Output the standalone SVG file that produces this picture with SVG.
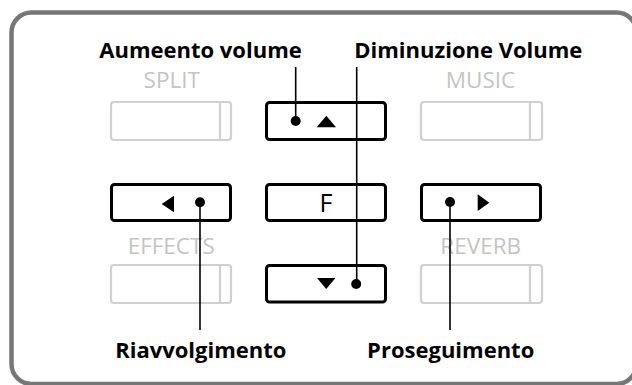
<svg xmlns="http://www.w3.org/2000/svg" width="632" height="385" viewBox="0 0 632 385">
<style>
.frame{fill:#fff;stroke:#777;stroke-width:4.5}
.key{fill:#fff;stroke:#000;stroke-width:3}
.off{fill:#fff;stroke:#d0d0d0;stroke-width:2.2}
.offl{stroke:#d0d0d0;stroke-width:2.2}
.lbl{font-family:"Open Sans","Liberation Sans",sans-serif;font-weight:bold;font-size:22px;fill:#000;text-anchor:middle}
.glbl{font-family:"Open Sans","Liberation Sans",sans-serif;font-size:22.5px;fill:#c4c4c4;text-anchor:middle}
.ftxt{font-family:"Open Sans","Liberation Sans",sans-serif;font-size:25px;fill:#000;text-anchor:middle}
.ln{stroke:#000;stroke-width:1.6;fill:none}
.dot{fill:#000}
</style>
<rect class="frame" x="11.5" y="12.5" width="625" height="371.5" rx="20"/>
<g id="split">
<text class="glbl" x="171.7" y="87.5">SPLIT</text>
<rect class="off" x="111" y="102" width="120" height="38" rx="3"/>
<line class="offl" x1="220" y1="102" x2="220" y2="140"/>
</g>
<g id="music">
<text class="glbl" x="480.5" y="87.5">MUSIC</text>
<rect class="off" x="421" y="102" width="121" height="38" rx="3"/>
<line class="offl" x1="530" y1="102" x2="530" y2="140"/>
</g>
<g id="effects">
<text class="glbl" x="171.2" y="253.5">EFFECTS</text>
<rect class="off" x="111" y="265" width="120" height="38" rx="3"/>
<line class="offl" x1="220" y1="265" x2="220" y2="303"/>
</g>
<g id="reverb">
<text class="glbl" x="480.7" y="253.5">REVERB</text>
<rect class="off" x="421" y="265" width="121" height="38" rx="3"/>
<line class="offl" x1="530" y1="265" x2="530" y2="303"/>
</g>
<g id="up">
<rect class="key" x="266.5" y="102.5" width="119" height="37" rx="3"/>
<polygon points="316.7,127.3 336,127.3 326.3,115.7"/>
</g>
<g id="left">
<rect class="key" x="111.5" y="184.5" width="119" height="36" rx="3"/>
<polygon points="161.7,204 174,195.7 174,212.3"/>
</g>
<g id="f">
<rect class="key" x="266.5" y="184.5" width="119" height="36" rx="3"/>
<text class="ftxt" x="326" y="212.3">F</text>
</g>
<g id="right">
<rect class="key" x="421.5" y="184.5" width="119" height="36" rx="3"/>
<polygon points="477.7,194.3 489.3,202.7 477.7,211"/>
</g>
<g id="down">
<rect class="key" x="266.5" y="265.5" width="119" height="36.5" rx="3"/>
<polygon points="317,278 335.5,278 326.2,289"/>
</g>
<g id="labels">
<text class="lbl" x="200.5" y="57.5">Aumeento volume</text>
<text class="lbl" x="468.3" y="57.5">Diminuzione Volume</text>
<text class="lbl" x="200.8" y="357.7">Riavvolgimento</text>
<text class="lbl" x="450.7" y="357.7">Proseguimento</text>
</g>
<g id="connectors">
<line class="ln" x1="295.7" y1="67" x2="295.7" y2="121"/>
<circle class="dot" cx="295.7" cy="121" r="5"/>
<line class="ln" x1="356.7" y1="67" x2="356.7" y2="284"/>
<circle class="dot" cx="356.2" cy="284" r="5"/>
<line class="ln" x1="200" y1="202.3" x2="200" y2="330"/>
<circle class="dot" cx="200" cy="202.3" r="5"/>
<line class="ln" x1="450" y1="202" x2="450" y2="330"/>
<circle class="dot" cx="450" cy="202" r="5"/>
</g>
</svg>
